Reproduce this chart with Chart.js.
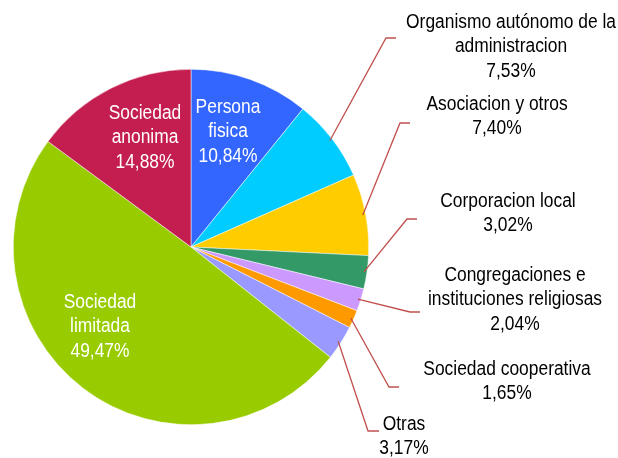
<!DOCTYPE html>
<html>
<head>
<meta charset="utf-8">
<script src="https://cdn.jsdelivr.net/npm/chart.js@4.4.0/dist/chart.umd.min.js"></script>
<style>
  html, body { margin: 0; padding: 0; background: #fff; }
  #wrap { width: 618px; height: 458px; position: relative; }
</style>
</head>
<body>
<div id="wrap"><canvas id="piechart"></canvas></div>
<script>
// data, clockwise from 12 o'clock
const labels = ['Persona fisica', 'Organismo autónomo de la administracion', 'Asociacion y otros',
  'Corporacion local', 'Congregaciones e instituciones religiosas', 'Sociedad cooperativa',
  'Otras', 'Sociedad limitada', 'Sociedad anonima'];
const values = [10.84, 7.53, 7.40, 3.02, 2.04, 1.65, 3.17, 49.47, 14.88];
const valueText = ['10,84%', '7,53%', '7,40%', '3,02%', '2,04%', '1,65%', '3,17%', '49,47%', '14,88%'];
const colors = ['#3366FF', '#00CCFF', '#FFCC00', '#339966', '#CC99FF', '#FF9900', '#9999FF', '#99CC00', '#C41E50'];

// label layout: text lines, centre x, first line y, elbow + end of leader (null = inside)
const labelLayout = [
  { lines: ['Persona', 'fisica'], x: 228, y: 107, color: '#fff' },
  { lines: ['Organismo autónomo de la', 'administracion'], x: 511, y: 22, elbow: [386, 38], end: [396, 38] },
  { lines: ['Asociacion y otros'], x: 497, y: 104, elbow: [400, 123], end: [410, 123] },
  { lines: ['Corporacion local'], x: 508, y: 201, elbow: [407, 219], end: [417, 219] },
  { lines: ['Congregaciones e', 'instituciones religiosas'], x: 515, y: 275, elbow: [410, 312], end: [420, 312] },
  { lines: ['Sociedad cooperativa'], x: 507, y: 369, elbow: [389, 387], end: [399, 387] },
  { lines: ['Otras'], x: 404, y: 424, elbow: [368, 431], end: [379, 431] },
  { lines: ['Sociedad', 'limitada'], x: 100, y: 302, color: '#fff' },
  { lines: ['Sociedad', 'anonima'], x: 145, y: 113, color: '#fff' }
];

const labelPlugin = {
  id: 'pieLabels',
  afterDraw(chart) {
    const ctx = chart.ctx;
    const arcs = chart.getDatasetMeta(0).data;
    ctx.save();
    ctx.font = '20px "Liberation Sans", Arial, sans-serif';
    ctx.textAlign = 'center';
    ctx.textBaseline = 'middle';
    labelLayout.forEach((lab, i) => {
      const arc = arcs[i];
      if (lab.elbow) {
        const mid = (arc.startAngle + arc.endAngle) / 2;
        const sx = arc.x + Math.cos(mid) * (arc.outerRadius - 3);
        const sy = arc.y + Math.sin(mid) * (arc.outerRadius - 3);
        ctx.strokeStyle = '#C0504D';
        ctx.lineWidth = 1.3;
        ctx.beginPath();
        ctx.moveTo(sx, sy);
        ctx.lineTo(lab.elbow[0], lab.elbow[1]);
        ctx.lineTo(lab.end[0], lab.end[1]);
        ctx.stroke();
      }
      ctx.fillStyle = lab.color || '#000';
      const all = lab.lines.concat([valueText[i]]);
      all.forEach((t, k) => {
        // condensed look like the original narrow font
        ctx.save();
        ctx.translate(lab.x, lab.y + k * 24.5);
        ctx.scale(0.87, 1);
        ctx.fillText(t, 0, 0);
        ctx.restore();
      });
    });
    ctx.restore();
  }
};

const ctx = document.getElementById('piechart');

new Chart(ctx, {
  type: 'pie',
  data: {
    labels: labels,
    datasets: [{
      data: values,
      backgroundColor: colors,
      borderColor: '#ffffff',
      borderWidth: 0.5
    }]
  },
  options: {
    responsive: true,
    maintainAspectRatio: false,
    animation: false,
    rotation: 0,
    layout: { padding: { left: 13, top: 69, right: 249, bottom: 33 } },
    plugins: {
      legend: { display: false },
      tooltip: { enabled: false }
    }
  },
  plugins: [labelPlugin]
});
</script>
</body>
</html>
